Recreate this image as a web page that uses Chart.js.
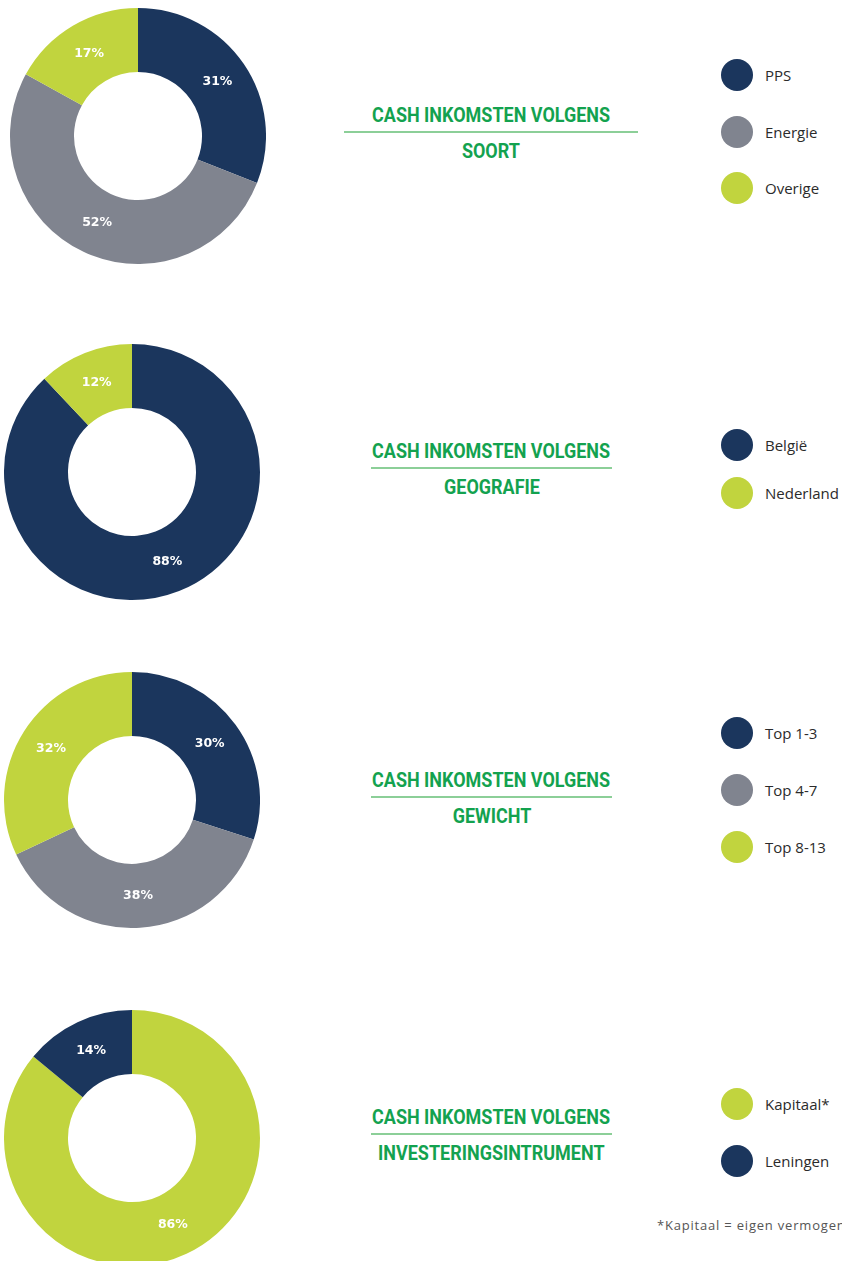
<!DOCTYPE html>
<html>
<head>
<meta charset="utf-8">
<script src="https://cdn.jsdelivr.net/npm/chart.js@4.4.1/dist/chart.umd.min.js"></script>
<style>
  html, body { margin: 0; padding: 0; background: #fff; }
  body { width: 842px; height: 1261px; position: relative; overflow: hidden; }
  canvas.donut { position: absolute; }
  .title {
    position: absolute;
    color: #13a24f;
    font-family: Roboto, "Liberation Sans", sans-serif;
    font-weight: bold;
    font-size: 21px;
    white-space: nowrap;
  }
  .title .l1, .title .l2 { display: flex; justify-content: center; }
  .title .l1 { height: 32px; line-height: 32px; border-bottom: 2px solid #8ccf98; }
  .title .l2 { height: 36px; line-height: 36px; }
  .title span { display: inline-block; flex: none; transform-origin: 50% 50%; }
  .legend-item {
    position: absolute;
    left: 721px;
    height: 32px;
    display: flex;
    align-items: center;
    font-family: "Open Sans", sans-serif;
    font-size: 15px;
    color: #2b2b2b;
    white-space: nowrap;
  }
  .legend-item .dot { width: 32px; height: 32px; border-radius: 50%; margin-right: 12px; }
  .note {
    position: absolute;
    left: 657px;
    top: 1216px;
    font-family: "Open Sans", sans-serif;
    font-size: 13px;
    letter-spacing: 0.8px;
    color: #555;
    white-space: nowrap;
  }
</style>
</head>
<body>
<div class="note">*Kapitaal = eigen vermogen</div>
<script>
// Chart data
const soortLabels = ['PPS', 'Energie', 'Overige'];
const soortValues = [31, 52, 17];

const geoLabels = ['België', 'Nederland'];
const geoValues = [88, 12];

const gewichtLabels = ['Top 1-3', 'Top 4-7', 'Top 8-13'];
const gewichtValues = [30, 38, 32];

const instrumentLabels = ['Kapitaal*', 'Leningen'];
const instrumentValues = [86, 14];

// Colours
const NAVY = '#1b365d';
const GREY = '#80848f';
const LIME = '#c1d43e';

// Section layout (canvas box, title underline, legend rows)
const sections = [
    { labels: soortLabels, values: soortValues, colors: [NAVY, GREY, LIME], sub: 'SOORT',
      left: 10, top: 8, lineY: 132, lineX1: 344, lineX2: 638, legendY: [75, 132, 188] },
    { labels: geoLabels, values: geoValues, colors: [NAVY, LIME], sub: 'GEOGRAFIE',
      left: 4, top: 344, lineY: 468, lineX1: 371, lineX2: 612, legendY: [445, 493] },
    { labels: gewichtLabels, values: gewichtValues, colors: [NAVY, GREY, LIME], sub: 'GEWICHT',
      left: 4, top: 672, lineY: 797, lineX1: 371, lineX2: 612, legendY: [733, 790, 847] },
    { labels: instrumentLabels, values: instrumentValues, colors: [LIME, NAVY], sub: 'INVESTERINGSINTRUMENT',
      left: 4, top: 1010, lineY: 1134, lineX1: 371, lineX2: 612, legendY: [1104, 1161] }
];

const TITLE_WIDTH = 238; // width of "CASH INKOMSTEN VOLGENS" in the reference

// Percentage labels in the middle of each arc
const pctLabels = {
    id: 'pctLabels',
    afterDatasetsDraw(chart) {
        const ctx = chart.ctx;
        const meta = chart.getDatasetMeta(0);
        const values = chart.data.datasets[0].data;
        ctx.save();
        ctx.fillStyle = '#ffffff';
        ctx.font = 'bold 12.5px "DejaVu Sans", sans-serif';
        ctx.textAlign = 'center';
        ctx.textBaseline = 'middle';
        meta.data.forEach((arc, i) => {
            const p = arc.tooltipPosition();
            ctx.fillText(values[i] + '%', p.x, p.y);
        });
        ctx.restore();
    }
};

function createSection(s) {
    const canvas = document.createElement('canvas');
    canvas.className = 'donut';
    canvas.width = 256;
    canvas.height = 256;
    canvas.style.left = s.left + 'px';
    canvas.style.top = s.top + 'px';
    document.body.appendChild(canvas);

    const chart = new Chart(canvas, {
        type: 'doughnut',
        data: {
            labels: s.labels,
            datasets: [{
                data: s.values,
                backgroundColor: s.colors,
                borderWidth: 0
            }]
        },
        options: {
            responsive: false,
            animation: false,
            devicePixelRatio: 1,
            cutout: '50%',
            layout: { padding: 0 },
            plugins: {
                legend: { display: false },
                tooltip: { enabled: false }
            }
        },
        plugins: [pctLabels]
    });

    // title with underline, squeezed to a condensed look
    const title = document.createElement('div');
    title.className = 'title';
    title.style.left = s.lineX1 + 'px';
    title.style.width = (s.lineX2 - s.lineX1) + 'px';
    title.style.top = (s.lineY - 33) + 'px';
    title.innerHTML = '<div class="l1"><span>CASH INKOMSTEN VOLGENS</span></div>' +
                      '<div class="l2"><span>' + s.sub + '</span></div>';
    document.body.appendChild(title);
    const spans = title.querySelectorAll('span');
    const scale = TITLE_WIDTH / spans[0].getBoundingClientRect().width;
    spans.forEach(sp => { sp.style.transform = 'scaleX(' + scale + ')'; });

    // html legend from the chart's own labels / colours
    chart.data.labels.forEach((label, i) => {
        const item = document.createElement('div');
        item.className = 'legend-item';
        item.style.top = (s.legendY[i] - 16) + 'px';
        const dot = document.createElement('span');
        dot.className = 'dot';
        dot.style.background = chart.data.datasets[0].backgroundColor[i];
        const txt = document.createElement('span');
        txt.textContent = label;
        item.appendChild(dot);
        item.appendChild(txt);
        document.body.appendChild(item);
    });
}

sections.forEach(createSection);
</script>
</body>
</html>
